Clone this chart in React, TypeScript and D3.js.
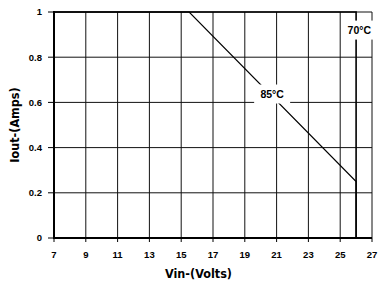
import { useMemo } from 'react';
import * as d3 from 'd3';

const vinTicks = [7, 9, 11, 13, 15, 17, 19, 21, 23, 25, 27];
const ioutTicks = [0, 0.2, 0.4, 0.6, 0.8, 1];
const ioutTickLabels = ['0', '0.2', '0.4', '0.6', '0.8', '1'];

// derating curves
const curve85Vin = [7, 15.5, 26, 26];
const curve85Iout = [1, 1, 0.25, 0];
const curve70Vin = [7, 26, 26];
const curve70Iout = [1, 1, 0];

const curveLabels = [
  { text: '85°C', vin: 20.72, iout: 0.637 },
  { text: '70°C', vin: 26.2, iout: 0.92 },
];

const W = 378;
const H = 295;
const tickFont = 'Liberation Sans, Arial, sans-serif';
const titleFont = '"Liberation Sans Narrow", "Arial Narrow", "DejaVu Sans Condensed", sans-serif';

export default function App() {
  const x = useMemo(() => d3.scaleLinear().domain([7, 27]).range([54, 372]), []);
  const y = useMemo(() => d3.scaleLinear().domain([0, 1]).range([238, 12]), []);

  const line = d3.line<[number, number]>()
    .x(d => x(d[0]))
    .y(d => y(d[1]));

  const c85 = line(curve85Vin.map((v, i) => [v, curve85Iout[i]]) as [number, number][]) || undefined;
  const c70 = line(curve70Vin.map((v, i) => [v, curve70Iout[i]]) as [number, number][]) || undefined;

  return (
    <svg width={W} height={H} style={{ position: 'absolute', left: 0, top: 0, background: '#fff' }}>
      {/* grid */}
      {vinTicks.slice(1).map(v => (
        <line key={'gv' + v} x1={x(v)} x2={x(v)} y1={y(0)} y2={y(1)} stroke="#111" strokeWidth={1} />
      ))}
      {ioutTicks.slice(1).map(v => (
        <line key={'gh' + v} x1={x(7)} x2={x(27)} y1={y(v)} y2={y(v)} stroke="#111" strokeWidth={1} />
      ))}

      {/* ticks */}
      {vinTicks.map(v => (
        <line key={'tx' + v} x1={x(v)} x2={x(v)} y1={y(0)} y2={y(0) + 4} stroke="#000" strokeWidth={1} />
      ))}
      {ioutTicks.map(v => (
        <line key={'ty' + v} x1={x(7) - 6} x2={x(7)} y1={y(v)} y2={y(v)} stroke="#000" strokeWidth={1} />
      ))}

      {/* axes */}
      <line x1={x(7)} x2={x(7)} y1={y(0) + 1} y2={y(1) - 1} stroke="#000" strokeWidth={2} />
      <line x1={x(7)} x2={x(27)} y1={y(0)} y2={y(0)} stroke="#000" strokeWidth={2} />

      {/* curves */}
      <path d={c70} fill="none" stroke="#000" strokeWidth={1.6} />
      <path d={c85} fill="none" stroke="#000" strokeWidth={1.2} />

      {/* curve labels */}
      {curveLabels.map(l => (
        <g key={l.text} transform={`translate(${x(l.vin)},${y(l.iout)})`}>
          <rect x={-18} y={-9.5} width={36} height={19} fill="#fff" />
          <text textAnchor="middle" dy="0.35em" fontFamily={tickFont} fontWeight="bold" fontSize={10.5}>
            {l.text}
          </text>
        </g>
      ))}

      {/* tick labels */}
      {vinTicks.map(v => (
        <text key={'lx' + v} x={x(v)} y={257.5} textAnchor="middle" fontFamily={tickFont} fontWeight="bold" fontSize={9.5}>
          {v}
        </text>
      ))}
      {ioutTicks.map((v, i) => (
        <text key={'ly' + v} x={42} y={y(v)} dy="0.35em" textAnchor="end" fontFamily={tickFont} fontWeight="bold" fontSize={9.5}>
          {ioutTickLabels[i]}
        </text>
      ))}

      {/* axis titles */}
      <text x={198.5} y={278} textAnchor="middle" fontFamily={titleFont} fontWeight="bold" fontSize={12.5}>
        Vin-(Volts)
      </text>
      <text transform={`translate(19,${(y(0) + y(1)) / 2}) rotate(-90)`} textAnchor="middle" fontFamily={titleFont} fontWeight="bold" fontSize={12.5}>
        Iout-(Amps)
      </text>
    </svg>
  );
}
